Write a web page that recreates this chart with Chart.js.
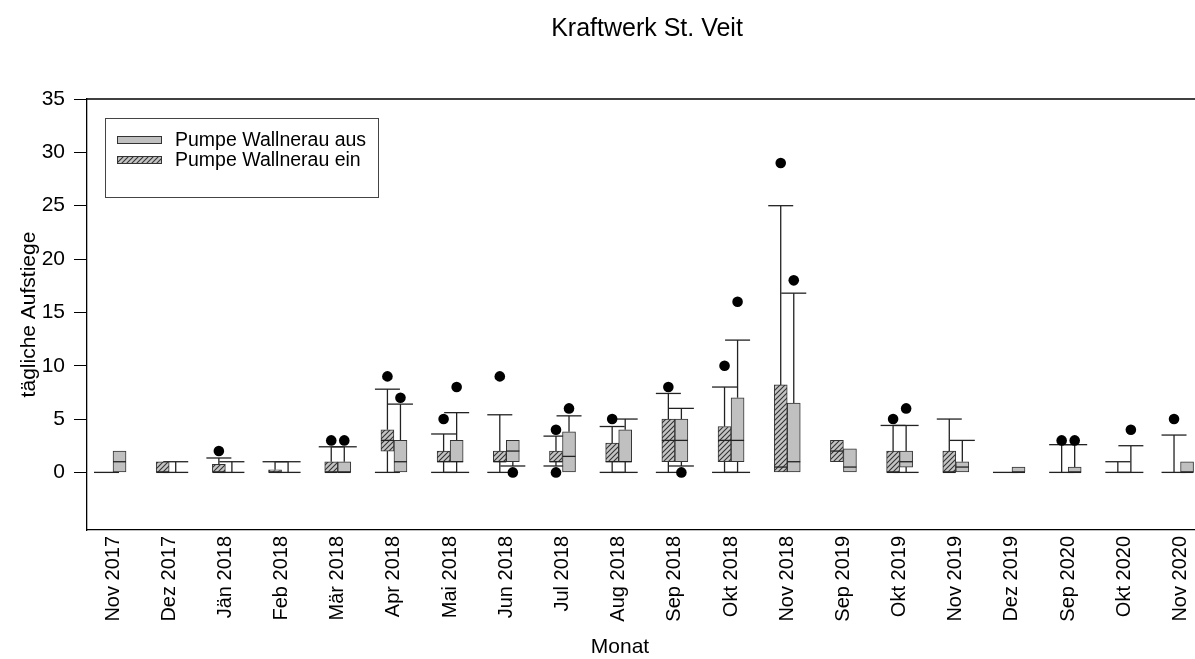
<!DOCTYPE html>
<html>
<head>
<meta charset="utf-8">
<script src="https://cdn.jsdelivr.net/npm/chart.js@4.4.0/dist/chart.umd.min.js"></script>
<style>
  html, body { margin: 0; padding: 0; background: #fff; overflow: hidden; }
  #wrap { width: 1210px; height: 659px; }
</style>
</head>
<body>
<div id="wrap"><canvas id="veitChart"></canvas></div>
<script>
const months = ['Nov 2017','Dez 2017','Jän 2018','Feb 2018','Mär 2018','Apr 2018','Mai 2018','Jun 2018','Jul 2018','Aug 2018',
  'Sep 2018','Okt 2018','Nov 2018','Sep 2019','Okt 2019','Nov 2019','Dez 2019','Sep 2020','Okt 2020','Nov 2020'];
const seriesNames = ['Pumpe Wallnerau aus', 'Pumpe Wallnerau ein'];
const chartTitle = 'Kraftwerk St. Veit';
const xTitle = 'Monat';
const yTicks = [0, 5, 10, 15, 20, 25, 30, 35];

// Pumpe ein (hatched boxes)
const einLow  = [0, 0, 0, 0, 0, 0, 0, 0, 0.6, 0, 0, 0, 0, null, 0, 0, 0, 0, 0, 0];
const einQ1   = [0, 0, 0, 0, 0, 2, 1, 1, 1, 1, 1, 1, 0, 1, 0, 0, 0, 0, 0, 0];
const einMed  = [0, 0, 0, 0, 0, 3, 1, 1, 1, 1, 3, 3, 0.5, 2, 0, 0, 0, 0, 0, 0];
const einQ3   = [0, 1, 0.75, 0.25, 1, 4, 2, 2, 2, 2.75, 5, 4.3, 8.2, 3, 2, 2, 0, 0, 0, 0];
const einHigh = [0, 1, 1.35, 1, 2.4, 7.8, 3.6, 5.4, 3.4, 4.3, 7.4, 8, 25, null, 4.4, 5, 0, 2.6, 1, 3.5];
const einOut  = [[], [], [2], [], [3], [9], [5], [9], [4, 0], [5], [8], [10], [29], [], [5], [], [], [3], [], [5]];

// Pumpe aus (grey boxes)
const ausLow  = [0, 0, 0, 0, 0, 0, 0, 0.6, 0, 0, 0.6, 0, 0, null, 0, 0, null, 0, 0, 0];
const ausQ1   = [0, 0, 0, 0, 0, 0, 1, 1, 0, 1, 1, 1, 0, 0, 0.5, 0, 0, 0, 0, 0];
const ausMed  = [1, 0, 0, 0, 0, 1, 1, 2, 1.5, 1, 3, 3, 1, 0.5, 1, 0.5, 0, 0, 0, 0];
const ausQ3   = [2, 0, 0, 0, 1, 3, 3, 3, 3.8, 4, 5, 7, 6.5, 2.2, 2, 1, 0.5, 0.5, 0, 1];
const ausHigh = [2, 1, 1, 1, 2.4, 6.4, 5.6, 3, 5.3, 5, 6, 12.4, 16.8, null, 4.4, 3, null, 2.6, 2.5, 1];
const ausOut  = [[], [], [], [], [3], [7], [8], [0], [6], [], [0], [16], [18], [], [6], [], [], [3], [4], []];

const OFF = 0.116;      // half a box, in month units
const CAP = 12.5;       // half cap width, px
const FONT = 'Liberation Sans, Arial, sans-serif';

Chart.defaults.font.family = FONT;
Chart.defaults.color = '#000';

function makeHatch() {
  const c = document.createElement('canvas');
  c.width = 5; c.height = 5;
  const g = c.getContext('2d');
  g.fillStyle = '#c4c4c4';
  g.fillRect(0, 0, 5, 5);
  g.strokeStyle = '#333';
  g.lineWidth = 1.1;
  g.beginPath();
  g.moveTo(0, 5); g.lineTo(5, 0);
  g.moveTo(-1, 1); g.lineTo(1, -1);
  g.moveTo(4, 6); g.lineTo(6, 4);
  g.stroke();
  return g.createPattern(c, 'repeat');
}
const hatch = makeHatch();

function boxes(q1, q3, dx) {
  return months.map((m, i) => q3[i] > q1[i] ? {x: i + dx, y: [q1[i], q3[i]]} : null).filter(Boolean);
}
function outliers(out, dx) {
  const pts = [];
  out.forEach((list, i) => list.forEach(v => pts.push({x: i + dx, y: v})));
  return pts;
}

const groups = [
  {low: einLow, q1: einQ1, med: einMed, q3: einQ3, high: einHigh, dx: -OFF},
  {low: ausLow, q1: ausQ1, med: ausMed, q3: ausQ3, high: ausHigh, dx: OFF}
];

const boxPlot = {
  id: 'boxPlot',
  beforeDatasetsDraw(chart) {
    const {ctx, scales: {x, y}} = chart;
    ctx.save();
    ctx.strokeStyle = '#222';
    ctx.lineWidth = 1.3;
    const seg = (x1, y1, x2, y2) => { ctx.beginPath(); ctx.moveTo(x1, y1); ctx.lineTo(x2, y2); ctx.stroke(); };
    groups.forEach(gr => {
      months.forEach((m, i) => {
        if (gr.low[i] == null) return;
        const cx = x.getPixelForValue(i + gr.dx);
        const flat = gr.q3[i] <= gr.q1[i];
        if (gr.high[i] > gr.q3[i]) {
          seg(cx, y.getPixelForValue(gr.q3[i]), cx, y.getPixelForValue(gr.high[i]));
          seg(cx - CAP, y.getPixelForValue(gr.high[i]), cx + CAP, y.getPixelForValue(gr.high[i]));
        }
        if (gr.low[i] < gr.q1[i] || flat) {
          seg(cx, y.getPixelForValue(gr.q1[i]), cx, y.getPixelForValue(gr.low[i]));
          seg(cx - CAP, y.getPixelForValue(gr.low[i]), cx + CAP, y.getPixelForValue(gr.low[i]));
        }
      });
    });
    ctx.restore();
  },
  afterDatasetsDraw(chart) {
    const {ctx, chartArea, scales: {x, y}} = chart;
    ctx.save();
    ctx.strokeStyle = '#222';
    ctx.lineWidth = 1.3;
    groups.forEach(gr => {
      months.forEach((m, i) => {
        if (!(gr.q3[i] > gr.q1[i])) return;
        const cx = x.getPixelForValue(i + gr.dx);
        const my = y.getPixelForValue(gr.med[i]);
        ctx.beginPath();
        ctx.moveTo(cx - 6.5, my);
        ctx.lineTo(cx + 6.5, my);
        ctx.stroke();
      });
    });
    // top frame
    ctx.strokeStyle = '#000';
    ctx.beginPath();
    ctx.moveTo(chartArea.left, chartArea.top);
    ctx.lineTo(chartArea.right, chartArea.top);
    ctx.stroke();

    // titles
    ctx.fillStyle = '#000';
    ctx.textAlign = 'center';
    ctx.textBaseline = 'middle';
    ctx.font = '25px ' + FONT;
    ctx.fillText(chartTitle, 647, 29);
    ctx.font = '21px ' + FONT;
    ctx.fillText(xTitle, 620, 647);

    // legend box
    ctx.textAlign = 'left';
    ctx.lineWidth = 1;
    ctx.strokeStyle = '#444';
    ctx.strokeRect(105.5, 118.5, 273, 79);
    const fills = ['#c0c0c0', hatch];
    seriesNames.forEach((name, k) => {
      const ty = 140 + k * 20;
      ctx.fillStyle = fills[k];
      ctx.fillRect(117, ty - 4, 45, 8);
      ctx.strokeStyle = '#333';
      ctx.strokeRect(117.5, ty - 3.5, 44, 7);
      ctx.fillStyle = '#000';
      ctx.font = '19.5px ' + FONT;
      ctx.fillText(name, 175, ty + 1);
    });
    ctx.restore();
  }
};

new Chart(document.getElementById('veitChart'), {
  type: 'bar',
  data: {
    datasets: [
      {
        label: seriesNames[1],
        data: boxes(einQ1, einQ3, -OFF),
        backgroundColor: hatch,
        borderColor: '#333',
        borderWidth: 1,
        borderSkipped: false,
        barThickness: 13,
        grouped: false
      },
      {
        label: seriesNames[0],
        data: boxes(ausQ1, ausQ3, OFF),
        backgroundColor: '#c0c0c0',
        borderColor: '#333',
        borderWidth: 1,
        borderSkipped: false,
        barThickness: 13,
        grouped: false
      },
      {
        type: 'scatter',
        label: 'Ausreißer',
        data: outliers(einOut, -OFF).concat(outliers(ausOut, OFF)),
        backgroundColor: '#000',
        borderWidth: 0,
        pointRadius: 5.3
      }
    ]
  },
  options: {
    responsive: true,
    maintainAspectRatio: false,
    animation: false,
    layout: { padding: { top: 99, left: 0, right: 0, bottom: 0 } },
    scales: {
      x: {
        type: 'linear',
        min: -0.463,
        max: 19.43,
        offset: false,
        grid: { display: false, drawTicks: false },
        border: { display: true, color: '#000', width: 1.3 },
        afterBuildTicks: s => { s.ticks = months.map((m, i) => ({value: i})); },
        afterFit: s => { s.height = 129; s.paddingRight = 0; s.paddingLeft = 0; },
        ticks: {
          autoSkip: false,
          maxRotation: 90,
          minRotation: 90,
          padding: 6,
          font: { size: 20 },
          callback: v => months[v] ?? ''
        },
        title: { display: false }
      },
      y: {
        min: -5.4,
        max: 35,
        grid: { drawOnChartArea: false, drawTicks: true, tickLength: 13, color: '#000' },
        border: { display: true, color: '#000', width: 1.3 },
        afterBuildTicks: s => { s.ticks = yTicks.map(v => ({value: v})); },
        afterFit: s => { s.width = 87; },
        ticks: { padding: 9, font: { size: 21 } },
        title: { display: true, text: 'tägliche Aufstiege', font: { size: 21 }, padding: { top: 17, bottom: 0 } }
      }
    },
    plugins: {
      legend: { display: false },
      tooltip: { enabled: false },
      title: { display: false }
    }
  },
  plugins: [boxPlot]
});
</script>
</body>
</html>
